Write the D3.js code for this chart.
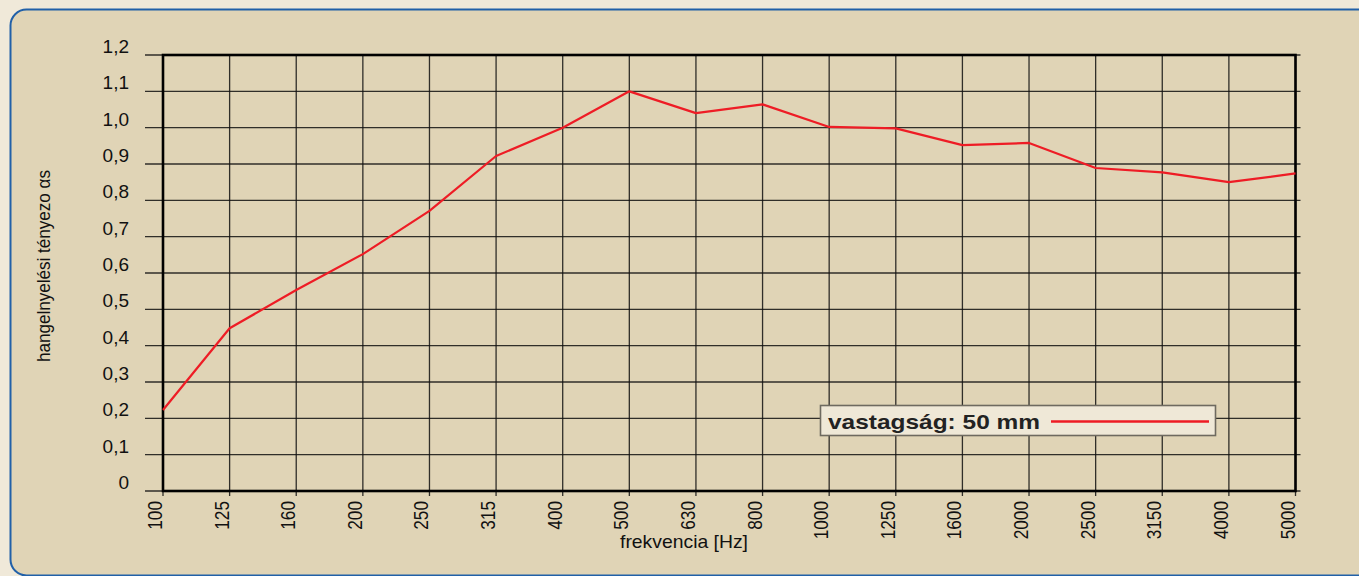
<!DOCTYPE html>
<html><head><meta charset="utf-8">
<script src="https://cdn.jsdelivr.net/npm/d3@7"></script>
<style>
html,body{margin:0;padding:0;background:#f0e9d9;}
svg{display:block;}
text{font-family:"Liberation Sans",Arial,sans-serif;fill:#111;}
</style></head>
<body>
<svg id="c" width="1359" height="576"></svg>
<script>
const categories = ["100","125","160","200","250","315","400","500","630","800","1000","1250","1600","2000","2500","3150","4000","5000"];
const values = [0.223,0.448,0.553,0.652,0.771,0.922,1.0,1.1,1.04,1.064,1.002,0.998,0.952,0.958,0.889,0.877,0.85,0.874];
const yTicks = [0,0.1,0.2,0.3,0.4,0.5,0.6,0.7,0.8,0.9,1.0,1.1,1.2];
const seriesName = "vastagság: 50 mm";
const xTitle = "frekvencia [Hz]";
const yTitle = "hangelnyelési tényezo αs";

const svg = d3.select("#c");
svg.append("rect").attr("x",10.5).attr("y",9.5).attr("width",1400).attr("height",566)
  .attr("rx",16).attr("fill","#e0d4b6").attr("stroke","#2160a8").attr("stroke-width",2);

const L=163, R=1295.5, T=55, B=491;
const x = d3.scalePoint().domain(categories).range([L,R]);
const y = d3.scaleLinear().domain([0,1.2]).range([B,T]);
const fmt = d => d===0 ? "0" : d3.format(".1f")(d).replace(".",",");

const g = svg.append("g");
g.selectAll(".hg").data(yTicks).join("line")
  .attr("x1",145).attr("x2",R+5).attr("y1",d=>y(d)).attr("y2",d=>y(d))
  .attr("stroke","#111").attr("stroke-width",1.3).attr("stroke-opacity",0.85);
g.selectAll(".vg").data(categories).join("line")
  .attr("x1",d=>x(d)).attr("x2",d=>x(d)).attr("y1",T).attr("y2",B+5)
  .attr("stroke","#111").attr("stroke-width",1.3).attr("stroke-opacity",0.85);
g.append("rect").attr("x",L).attr("y",T).attr("width",R-L).attr("height",B-T)
  .attr("fill","none").attr("stroke","#000").attr("stroke-width",2.6);

g.selectAll(".yl").data(yTicks).join("text")
  .attr("x",129).attr("y",d=>y(d)-2).attr("text-anchor","end")
  .style("font-size","19px").text(fmt);

g.selectAll(".xl").data(categories).join("text")
  .attr("transform",d=>`translate(${x(d)-1},501) rotate(-90) scale(0.86,1.05)`)
  .attr("text-anchor","end").style("font-size","20px").text(d=>d);

svg.append("text").attr("x",684).attr("y",548).attr("text-anchor","middle")
  .attr("textLength",128).attr("lengthAdjust","spacingAndGlyphs")
  .style("font-size","19px").text(xTitle);
svg.append("text").attr("transform","translate(50,266) rotate(-90)").attr("text-anchor","middle")
  .attr("textLength",192).attr("lengthAdjust","spacingAndGlyphs")
  .style("font-size","19px").text(yTitle);

const line = d3.line().x((d,i)=>x(categories[i])).y(d=>y(d));
svg.append("path").datum(values).attr("d",line).attr("fill","none")
  .attr("stroke","#ee1c25").attr("stroke-width",2.2).attr("stroke-linejoin","round");

const lg = svg.append("g");
lg.append("rect").attr("x",820.5).attr("y",405.5).attr("width",395).attr("height",30)
  .attr("fill","#efe8d7").attr("stroke","#6e6a60").attr("stroke-width",1.6);
lg.append("text").attr("x",828).attr("y",428.5).style("font-size","21px").style("font-weight","bold")
  .attr("textLength",212).attr("lengthAdjust","spacingAndGlyphs").style("fill","#222").text(seriesName);
lg.append("line").attr("x1",1051).attr("x2",1209).attr("y1",421.5).attr("y2",421.5)
  .attr("stroke","#ee1c25").attr("stroke-width",2.4);
</script>
</body></html>
